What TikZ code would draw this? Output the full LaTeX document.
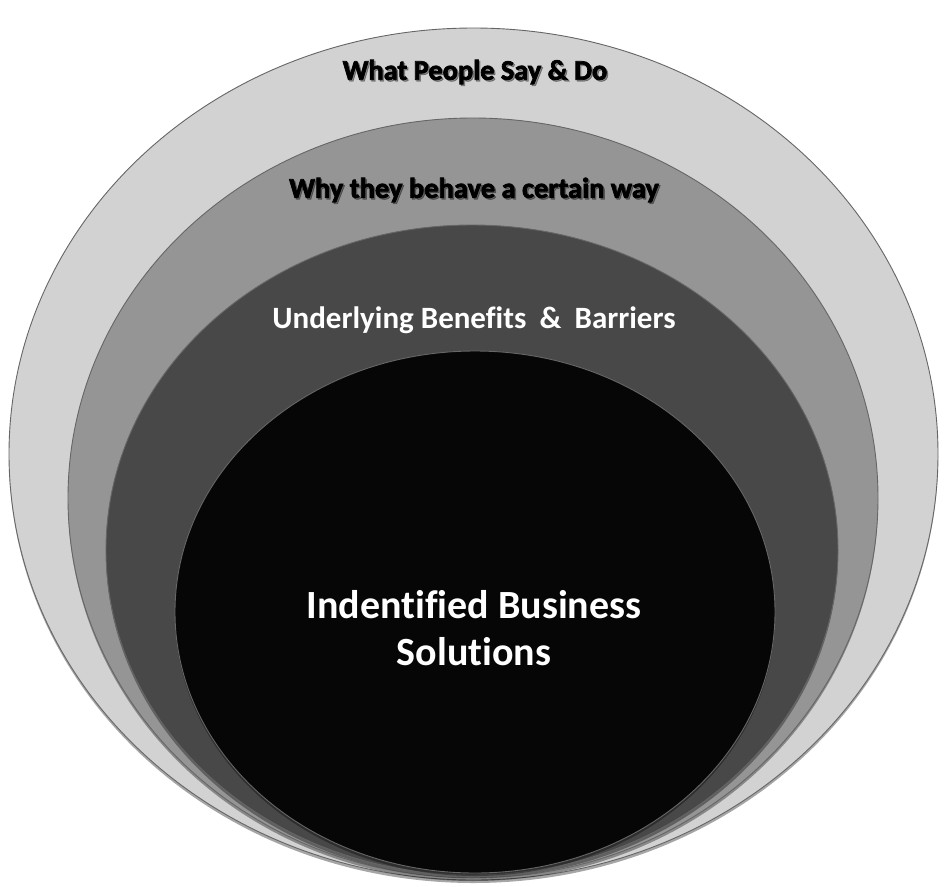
\documentclass[tikz,border=0pt]{standalone}
\usepackage{fontspec}
\setmainfont{Carlito}[Ligatures=NoCommon]
\newfontfamily\heavyfont{Carlito}[FakeBold=2.5, Ligatures=NoCommon]
\usetikzlibrary{shadows}
\definecolor{ringA}{HTML}{D2D2D2}
\definecolor{ringB}{HTML}{959595}
\definecolor{ringC}{HTML}{484848}
\definecolor{ringD}{HTML}{060606}
\begin{document}
\begin{tikzpicture}[x=1pt,y=-1pt,
  ring/.style={draw=black!60, line width=0.9pt,
    drop shadow={shadow xshift=0pt, shadow yshift=-3pt, opacity=0.35, fill=black}},
  darklabel/.style={text=black, font=\heavyfont\bfseries\fontsize{#1}{#1}\selectfont, inner sep=0pt},
  glowlabel/.style={text=black, opacity=0.35, font=\heavyfont\bfseries\fontsize{#1}{#1}\selectfont, inner sep=0pt},
  lightlabel/.style={text=white, font=\bfseries\fontsize{#1}{#1}\selectfont, inner sep=0pt, align=center},
]
\path[use as bounding box, fill=white] (0,0) rectangle (946,887);
\path[ring, fill=ringA] (473.5,454) ellipse [x radius=464.5, y radius=426];
\path[ring, fill=ringB] (473,498) ellipse [x radius=405, y radius=380];
\path[ring, fill=ringC] (472,550) ellipse [x radius=366, y radius=325];
\path[ring, fill=ringD] (475,612) ellipse [x radius=300, y radius=261];
\node[glowlabel=28.4] (g1) at (476.5,73.5) {What People Say \& Do};
\node[darklabel=28.4] (t1) at (475,72) {What People Say \& Do};
\node[glowlabel=28.5] (g2) at (475.5,191.5) {Why they behave a certain way};
\node[darklabel=28.5] (t2) at (474,190) {Why they behave a certain way};
\node[lightlabel=31] (t3) at (474,320) {Underlying Benefits\hspace{0.2em} \&\hspace{0.2em} Barriers};
\node[lightlabel=40] (t4) at (474,628) {Indentified Business\\[7pt]Solutions};
\end{tikzpicture}
\end{document}
